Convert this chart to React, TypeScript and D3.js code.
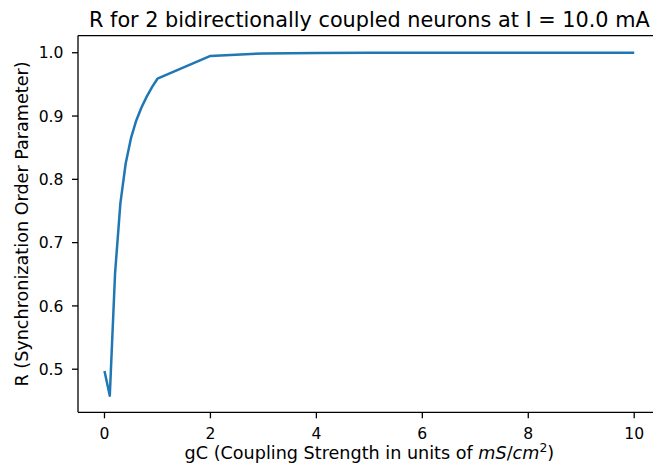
import React from "react";
import * as d3 from "d3";

const gC = [0, 0.1, 0.2, 0.3, 0.4, 0.5, 0.6, 0.7, 0.8, 0.9, 1, 2, 3, 4, 5, 6, 7, 8, 9, 10];
const R = [0.497, 0.458, 0.652, 0.762, 0.825, 0.865, 0.893, 0.914, 0.931, 0.946, 0.959, 0.995, 0.999, 0.9997, 1.0, 1.0, 1.0, 1.0, 1.0, 1.0];
const xTicks = [0, 2, 4, 6, 8, 10];
const yTicks = [0.5, 0.6, 0.7, 0.8, 0.9, 1.0];

const W = 653;
const H = 472;
const FONT = "DejaVu Sans, sans-serif";

export default function App() {
  const x = d3.scaleLinear().domain([-0.5, 10.5]).range([78, 660.7]);
  const y = d3.scaleLinear().domain([0.4319, 1.0271]).range([412.3, 35.6]);
  const line = d3
    .line<number>()
    .x((_, i) => x(gC[i]))
    .y((d) => y(d));
  const left = x(-0.5);
  const right = x(10.5);
  const top = y(1.0271);
  const bottom = y(0.4319);
  const tick = 6;
  const cx = (left + right) / 2;
  const cy = (top + bottom) / 2;
  const sw = 1.3;
  return (
    <svg
      width={W}
      height={H}
      style={{ position: "absolute", left: 0, top: 0, background: "#fff" }}
      fontFamily={FONT}
    >
      <rect x={0} y={0} width={W} height={H} fill="#fff" />
      <path d={line(R) || ""} fill="none" stroke="#1f77b4" strokeWidth={2.5} strokeLinejoin="round" strokeLinecap="butt" />
      {/* spines */}
      <line x1={left} x2={left} y1={top} y2={bottom} stroke="#000" strokeWidth={sw} />
      <line x1={left} x2={right} y1={bottom} y2={bottom} stroke="#000" strokeWidth={sw} />
      <line x1={left} x2={right} y1={top} y2={top} stroke="#000" strokeWidth={sw} />
      <line x1={right} x2={right} y1={top} y2={bottom} stroke="#000" strokeWidth={sw} />
      {xTicks.map((t) => (
        <g key={"x" + t}>
          <line x1={x(t)} x2={x(t)} y1={bottom} y2={bottom + tick} stroke="#000" strokeWidth={sw} />
          <text x={x(t)} y={438.7} textAnchor="middle" fontSize={15.6} fill="#000">
            {t}
          </text>
        </g>
      ))}
      {yTicks.map((t) => (
        <g key={"y" + t}>
          <line x1={left} x2={left - tick} y1={y(t)} y2={y(t)} stroke="#000" strokeWidth={sw} />
          <text x={63.5} y={y(t)} dy="0.36em" textAnchor="end" fontSize={15.6} fill="#000">
            {t.toFixed(1)}
          </text>
        </g>
      ))}
      <text x={cx} y={26.7} textAnchor="middle" fontSize={20.8} fill="#000">
        R for 2 bidirectionally coupled neurons at I = 10.0 mA
      </text>
      <text x={cx} y={459} textAnchor="middle" fontSize={17.6} fill="#000">
        gC (Coupling Strength in units of{" "}
        <tspan fontStyle="italic">mS</tspan>
        <tspan>/</tspan>
        <tspan fontStyle="italic">cm</tspan>
        <tspan fontSize={12.3} dy={-7}>2</tspan>
        <tspan dy={7}>)</tspan>
      </text>
      <text
        transform={`translate(28,${cy}) rotate(-90)`}
        textAnchor="middle"
        fontSize={17.6}
        fill="#000"
      >
        R (Synchronization Order Parameter)
      </text>
    </svg>
  );
}
